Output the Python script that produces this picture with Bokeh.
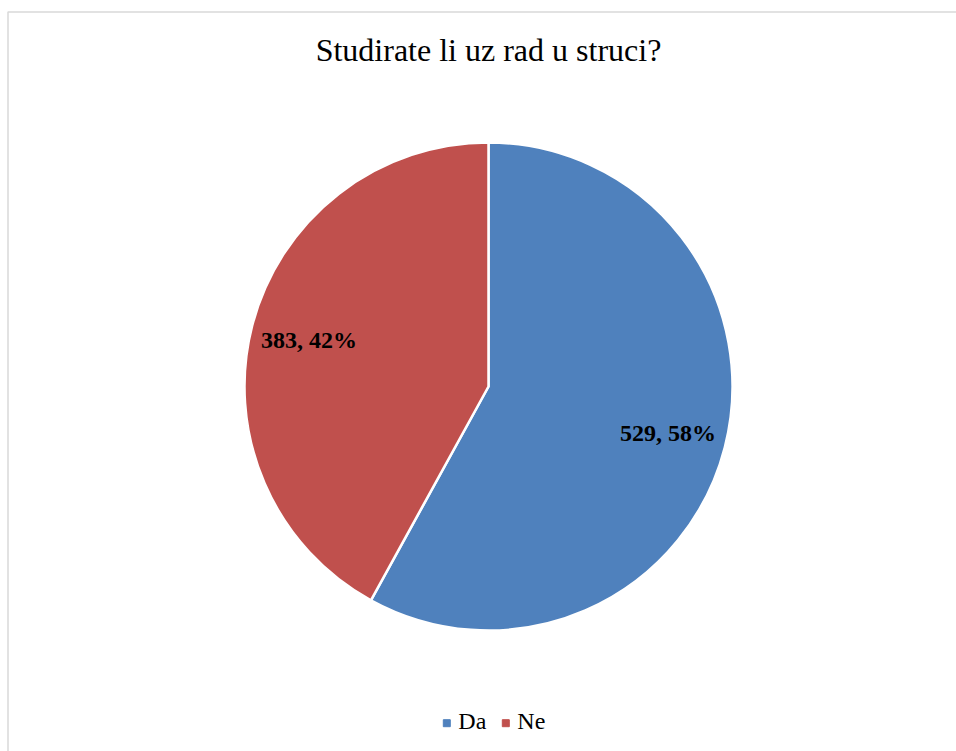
import math
from bokeh.plotting import figure
from bokeh.models import ColumnDataSource, Label, Range1d
from bokeh.embed import file_html
from bokeh.resources import INLINE
from bokeh.core.properties import value

# ---- data ----
title_text = "Studirate li uz rad u struci?"
categories = ["Da", "Ne"]
counts = [529, 383]
colors = ["#4F81BD", "#C0504D"]

# ---- layout (1 data unit = 1 pixel, origin bottom-left of the page) ----
W, H = 956, 751
CX, CY, R = 488, 365, 244
LABEL_R = 0.76
LEG_X0, LEG_STEP, LEG_Y, LEG_TXT_DX = 446.3, 59.0, 28.3, 11.5

total = sum(counts)
starts, ends, lx, ly, labels = [], [], [], [], []
a = math.pi / 2  # start at top, go clockwise
for c in counts:
    sweep = 2 * math.pi * c / total
    s, e = a - sweep, a
    starts.append(s)
    ends.append(e)
    mid = (s + e) / 2
    lx.append(CX + LABEL_R * R * math.cos(mid))
    ly.append(CY + LABEL_R * R * math.sin(mid))
    labels.append(f"{c}, {round(100 * c / total)}%")
    a -= sweep

src = ColumnDataSource(dict(cat=categories, count=counts, start=starts, end=ends,
                            color=colors, lx=lx, ly=ly, label=labels))

leg_sq_x = [LEG_X0 + i * LEG_STEP for i in range(len(categories))]
leg_src = ColumnDataSource(dict(
    sx=leg_sq_x,
    tx=[x + LEG_TXT_DX for x in leg_sq_x],
    y=[LEG_Y] * len(categories),
    ty=[LEG_Y + 2.5] * len(categories),
    cat=categories, color=colors))

p = figure(width=W, height=H, x_range=Range1d(0, W), y_range=Range1d(0, H),
           output_backend="svg", toolbar_location=None, min_border=0,
           x_axis_location=None, y_axis_location=None, outline_line_color=None,
           background_fill_color="white", border_fill_color="white")
p.grid.visible = False

# chart border (top and left edges visible in the reference)
p.line(x=[7.5, 7.5, W], y=[0, 739.5, 739.5], line_color="#d9d9d9", line_width=1.5)

p.wedge(x=CX, y=CY, radius=R, start_angle="start", end_angle="end",
        fill_color="color", line_color="white", line_width=2.5, source=src)

p.text(x="lx", y="ly", text="label", source=src,
       text_font=value("Liberation Serif"), text_font_size="24px",
       text_font_style="bold", text_align="center", text_baseline="middle",
       text_color="black")

p.add_layout(Label(x=CX, y=702, text=title_text, text_font="Liberation Serif",
                   text_font_size="32px", text_align="center",
                   text_baseline="middle", text_color="black"))

# legend
p.scatter(x="sx", y="y", marker="square", size=7, fill_color="color",
          line_color="color", source=leg_src)
p.text(x="tx", y="ty", text="cat", source=leg_src,
       text_font=value("Liberation Serif"), text_font_size="24px",
       text_align="left", text_baseline="middle", text_color="black")

open("out.html", "w").write(file_html(p, INLINE))
